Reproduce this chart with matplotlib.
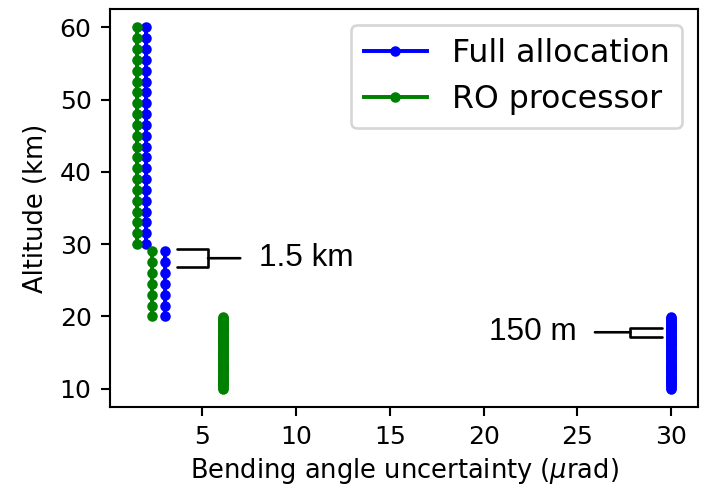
import numpy as np
import matplotlib
matplotlib.use("Agg")
import matplotlib.pyplot as plt

# Data
full_x = [2.0, 3.0, 30.0]
ro_x = [1.5, 2.3, 6.1]
alt_upper = np.arange(30.0, 60.0 + 0.01, 1.5)     # 1.5 km spacing, 30-60 km
alt_middle = np.arange(20.0, 29.0 + 0.01, 1.5)    # 1.5 km spacing, 20-29 km
alt_lower = np.arange(10.0, 20.0 + 0.001, 0.15)   # 150 m spacing, 10-20 km
alt_segments = [alt_upper, alt_middle, alt_lower]

DPI = 189
fig = plt.figure(figsize=(701 / DPI, 488 / DPI), dpi=DPI)
ax = fig.add_axes([110 / 701, 1 - 406.7 / 488, (698 - 110) / 701, (406.7 - 9.3) / 488])

for i, (xv, alts) in enumerate(zip(full_x, alt_segments)):
    ax.plot(np.full_like(alts, xv), alts, '.-', color='blue',
            label='Full allocation' if i == 0 else None)
for i, (xv, alts) in enumerate(zip(ro_x, alt_segments)):
    ax.plot(np.full_like(alts, xv), alts, '.-', color='green',
            label='RO processor' if i == 0 else None)

ax.set_xticks([5, 10, 15, 20, 25, 30])
ax.set_yticks([10, 20, 30, 40, 50, 60])
ax.tick_params(labelsize=9.6)
ax.set_xlabel(r'Bending angle uncertainty ($\mu$rad)', fontsize=9.8, labelpad=2.5)
ax.set_ylabel('Altitude (km)', fontsize=9.8)
ax.legend(loc='upper right', fontsize=12)

afont = ['Liberation Sans', 'DejaVu Sans']
ax.annotate('1.5 km', xy=(5.3, 28.05), xytext=(8.0, 28.05), fontsize=12,
            family=afont, ha='left', va='center',
            arrowprops=dict(arrowstyle='-[, widthB=0.29, lengthB=0.97',
                            color='black', lw=1.0, shrinkA=5, shrinkB=0))
ax.annotate('150 m', xy=(27.82, 17.8), xytext=(24.95, 17.8), fontsize=12,
            family=afont, ha='right', va='center',
            arrowprops=dict(arrowstyle='-[, widthB=0.15, lengthB=1.0',
                            color='black', lw=1.0, shrinkA=5, shrinkB=0))

fig.savefig('out.png', dpi=DPI)
